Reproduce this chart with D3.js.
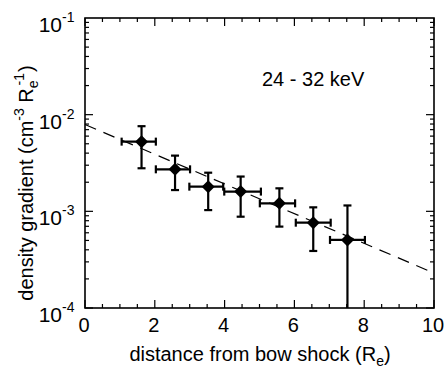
<!DOCTYPE html>
<html><head><meta charset="utf-8">
<script src="https://cdn.jsdelivr.net/npm/d3@7"></script>
<style>body{margin:0;background:#fff}svg{display:block}text{font-family:"Liberation Sans",Arial,sans-serif;fill:#000}</style>
</head><body>
<svg id="c" width="447" height="369"></svg>
<script>
// Data
const xVals   = [1.62, 2.58, 3.53, 4.46, 5.57, 6.54, 7.52];
const xLow    = [1.05, 2.03, 2.99, 3.99, 5.01, 6.04, 7.02];
const xHigh   = [2.03, 3.01, 3.96, 5.04, 6.02, 7.04, 8.02];
const yVals   = [5.26e-3, 2.72e-3, 1.80e-3, 1.60e-3, 1.21e-3, 7.63e-4, 5.06e-4];
const yLow    = [2.79e-3, 1.66e-3, 1.03e-3, 8.8e-4, 6.95e-4, 3.89e-4, 1e-5];
const yHigh   = [7.6e-3, 3.77e-3, 2.51e-3, 2.29e-3, 1.73e-3, 1.10e-3, 1.15e-3];
const fitX    = [0, 10];
const fitY    = [7.9e-3, 2.3e-4];
const xTicks  = [0, 2, 4, 6, 8, 10];
const yTicksExp = [-4, -3, -2, -1];

const svg = d3.select("#c");
const L = 85, R = 434, T = 18, B = 308;
const x = d3.scaleLinear().domain([0, 10]).range([L, R]);
const y = d3.scaleLog().domain([1e-4, 1e-1]).range([B, T]).clamp(true);

const g = svg.append("g");
g.append("rect").attr("x", L).attr("y", T).attr("width", R - L).attr("height", B - T)
  .attr("fill", "none").attr("stroke", "#000").attr("stroke-width", 1.6);

const xMinor = d3.range(0, 10.01, 0.5);
xMinor.forEach(v => {
  const major = Math.abs(v % 2) < 1e-6;
  const len = major ? 8 : 4;
  g.append("line").attr("x1", x(v)).attr("x2", x(v)).attr("y1", B).attr("y2", B - len).attr("stroke", "#000").attr("stroke-width", 1.2);
  g.append("line").attr("x1", x(v)).attr("x2", x(v)).attr("y1", T).attr("y2", T + len).attr("stroke", "#000").attr("stroke-width", 1.2);
});
for (let e = -4; e < -1; e++) {
  for (let m = 1; m < 10; m++) {
    const v = m * Math.pow(10, e);
    const len = m === 1 ? 8 : 4;
    g.append("line").attr("x1", L).attr("x2", L + len).attr("y1", y(v)).attr("y2", y(v)).attr("stroke", "#000").attr("stroke-width", 1.2);
    g.append("line").attr("x1", R).attr("x2", R - len).attr("y1", y(v)).attr("y2", y(v)).attr("stroke", "#000").attr("stroke-width", 1.2);
  }
}

xTicks.forEach(v => {
  g.append("text").attr("x", x(v) - 1).attr("y", 332).attr("text-anchor", "middle")
    .attr("font-size", 20).text(v);
});
yTicksExp.forEach(e => {
  const ty = y(Math.pow(10, e));
  g.append("text").attr("x", 62).attr("y", ty + 14).attr("text-anchor", "end").attr("font-size", 21).text("10");
  g.append("text").attr("x", 62).attr("y", ty + 4).attr("text-anchor", "start").attr("font-size", 14).text(e);
});

const xt = g.append("text").attr("x", 260).attr("y", 361).attr("text-anchor", "middle").attr("font-size", 20);
xt.append("tspan").text("distance from bow shock (R");
xt.append("tspan").attr("dy", 5).attr("font-size", 14).text("e");
xt.append("tspan").attr("dy", -5).text(")");

const yt = g.append("text").attr("transform", `translate(33,183) rotate(-90)`).attr("text-anchor", "middle").attr("font-size", 20);
yt.append("tspan").text("density gradient (cm");
yt.append("tspan").attr("dy", -9).attr("font-size", 14).text("-3");
yt.append("tspan").attr("dy", 9).text(" R");
yt.append("tspan").attr("dy", 5).attr("font-size", 14).text("e");
yt.append("tspan").attr("dy", -14).attr("dx", -5).attr("font-size", 14).text("-1");
yt.append("tspan").attr("dy", 9).attr("dx", 1).text(")");

g.append("text").attr("x", 262).attr("y", 86).attr("font-size", 20).text("24 - 32 keV");

const line = d3.line().x(d => x(d[0])).y(d => y(d[1]));
g.append("path").datum(fitX.map((v, i) => [v, fitY[i]])).attr("d", line)
  .attr("fill", "none").attr("stroke", "#000").attr("stroke-width", 1.2).attr("stroke-dasharray", "12,8");

const cap = 4;
xVals.forEach((xv, i) => {
  const cx = x(xv), cy = y(yVals[i]);
  const eb = g.append("g").attr("stroke", "#000").attr("stroke-width", 2.2);
  eb.append("line").attr("x1", x(xLow[i])).attr("x2", x(xHigh[i])).attr("y1", cy).attr("y2", cy);
  eb.append("line").attr("x1", x(xLow[i])).attr("x2", x(xLow[i])).attr("y1", cy - cap).attr("y2", cy + cap);
  eb.append("line").attr("x1", x(xHigh[i])).attr("x2", x(xHigh[i])).attr("y1", cy - cap).attr("y2", cy + cap);
  const yl = y(yLow[i]), yh = y(yHigh[i]);
  eb.append("line").attr("x1", cx).attr("x2", cx).attr("y1", yl).attr("y2", yh);
  eb.append("line").attr("x1", cx - cap).attr("x2", cx + cap).attr("y1", yh).attr("y2", yh);
  if (yLow[i] >= 1e-4) eb.append("line").attr("x1", cx - cap).attr("x2", cx + cap).attr("y1", yl).attr("y2", yl);
  const s = 6.5;
  g.append("path").attr("d", `M${cx},${cy - s}L${cx + s},${cy}L${cx},${cy + s}L${cx - s},${cy}Z`).attr("fill", "#000");
});
</script>
</body></html>
